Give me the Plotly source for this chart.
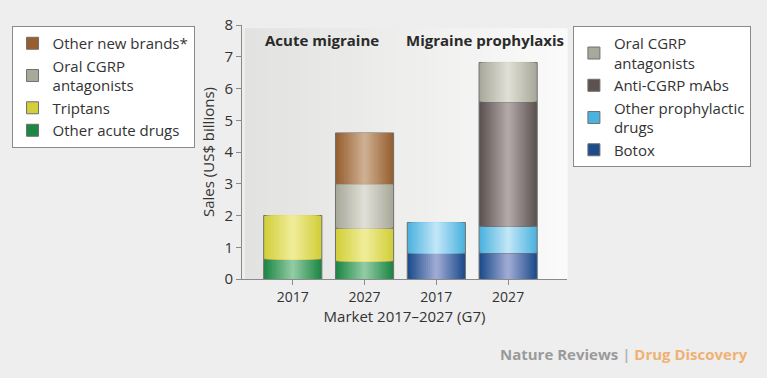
import plotly.graph_objects as go
import numpy as np

# ---- data ----
x_labels = ["2017", "2027", "2017", "2027"]
x_pos = [0, 1, 2, 3]
other_acute = [0.62, 0.56, 0, 0]
triptans = [1.38, 1.04, 0, 0]
oral_cgrp_acute = [0, 1.40, 0, 0]
other_new_brands = [0, 1.60, 0, 0]
botox = [0, 0, 0.81, 0.82]
other_prophylactic = [0, 0, 0.97, 0.84]
anti_cgrp = [0, 0, 0, 3.92]
oral_cgrp_proph = [0, 0, 0, 1.24]

series = [
    # name, values, edge colour, centre colour, legend
    ("Other acute drugs", other_acute, "#1d8744", "#8fcaa2", "legend"),
    ("Triptans", triptans, "#d2cf3a", "#efec98", "legend"),
    ("Oral CGRP<br>antagonists", oral_cgrp_acute, "#a9a99b", "#deded5", "legend"),
    ("Other new brands*", other_new_brands, "#975f30", "#cdae90", "legend"),
    ("Botox", botox, "#1c4c8c", "#9ea9d3", "legend2"),
    ("Other prophylactic<br>drugs", other_prophylactic, "#4cb2df", "#bfe5f7", "legend2"),
    ("Anti-CGRP mAbs", anti_cgrp, "#5c5250", "#b3a8a8", "legend2"),
    ("Oral CGRP<br>antagonists", oral_cgrp_proph, "#a9a99b", "#deded5", "legend2"),
]


def hex2rgb(h):
    h = h.lstrip("#")
    return np.array([int(h[i:i + 2], 16) for i in (0, 2, 4)], dtype=float)


def mix(a, b, t):
    c = hex2rgb(a) * (1 - t) + hex2rgb(b) * t
    return "rgb(%d,%d,%d)" % tuple(np.round(c))


fig = go.Figure()

BAR_W = 0.81
N_LAYERS = 14
base = np.zeros(len(x_pos))
for name, vals, edge, centre, leg in series:
    vals = np.array(vals, dtype=float)
    mask = vals > 0
    xs = np.array(x_pos)[mask]
    ys = vals[mask]
    bs = base[mask]
    for k in range(N_LAYERS):
        t = k / (N_LAYERS - 1)
        w = BAR_W * (1 - k / N_LAYERS)
        fig.add_trace(go.Bar(
            x=xs, y=ys, base=bs, width=w,
            marker=dict(color=mix(edge, centre, t),
                        line=dict(color="#6f6f6f" if k == 0 else "rgba(0,0,0,0)",
                                  width=1 if k == 0 else 0)),
            name=name, legend=leg, showlegend=(k == 0),
            hoverinfo="skip",
        ))
    base = base + vals

# panel background gradient
shapes = []
n_strips = 30
x0d, x1d = 0.009, 1.0
for i in range(n_strips):
    a = x0d + (x1d - x0d) * i / n_strips
    b = x0d + (x1d - x0d) * (i + 1) / n_strips
    shapes.append(dict(type="rect", xref="x domain", yref="y",
                       x0=a, x1=b + 0.002, y0=0, y1=7.9,
                       fillcolor=mix("#e2e2e0", "#fafafa", i / (n_strips - 1)),
                       line=dict(width=0), layer="below"))

FONT = "Open Sans"
TXT = "#333333"
fig.update_layout(
    width=767, height=378,
    margin=dict(l=237, r=200, t=25, b=99),
    paper_bgcolor="#eeeeee", plot_bgcolor="#eeeeee",
    barmode="overlay",
    font=dict(family=FONT, size=15, color=TXT),
    shapes=shapes,
    legend=dict(x=(3 - 237) / 330, y=0.996, xanchor="left", yanchor="top",
                bgcolor="#ffffff", bordercolor="#8a8a8a", borderwidth=1,
                traceorder="reversed", font=dict(size=15, color=TXT),
                itemclick=False, itemdoubleclick=False),
    legend2=dict(x=(573 - 237) / 330, y=0.996, xanchor="left", yanchor="top",
                 bgcolor="#ffffff", bordercolor="#8a8a8a", borderwidth=1,
                 traceorder="reversed", font=dict(size=15, color=TXT),
                 itemclick=False, itemdoubleclick=False),
    xaxis=dict(range=[-0.707, 3.82], tickvals=x_pos, ticktext=x_labels,
               showgrid=False, zeroline=False, showline=True, linecolor="#8a8a8a",
               ticks="outside", ticklen=5, tickcolor="#8a8a8a",
               tickfont=dict(size=14, color=TXT),
               title=dict(text="Market 2017–2027 (G7)", font=dict(size=15, color=TXT), standoff=6)),
    yaxis=dict(range=[0, 8], tickvals=list(range(9)),
               showgrid=False, zeroline=False, showline=True, linecolor="#8a8a8a",
               ticks="outside", ticklen=5, tickcolor="#8a8a8a",
               tickfont=dict(size=15, color=TXT),
               title=dict(text="Sales (US$ billions)", font=dict(size=15, color=TXT), standoff=6)),
    annotations=[
        dict(text="<b>Acute migraine</b>", x=-0.42, y=7.53, xref="x", yref="y",
             xanchor="left", yanchor="middle", showarrow=False,
             font=dict(size=15, color="#2a2a2a")),
        dict(text="<b>Migraine prophylaxis</b>", x=1.546, y=7.53, xref="x", yref="y",
             xanchor="left", yanchor="middle", showarrow=False,
             font=dict(size=15, color="#2a2a2a")),
        dict(text="<b><span style='color:#9a9a9a'>Nature Reviews</span>"
                  "<span style='color:#b5b5b5'> | </span>"
                  "<span style='color:#f0b173'>Drug Discovery</span></b>",
             x=(753 - 237) / 330, y=(279 - 354) / 254, xref="paper", yref="paper",
             showarrow=False, xanchor="right", yanchor="middle", font=dict(size=15)),
    ],
)

fig.write_html(
    "out.html",
    config={"displayModeBar": False},
    post_script="document.body.style.margin='0';document.body.style.background='#eeeeee';",
)
